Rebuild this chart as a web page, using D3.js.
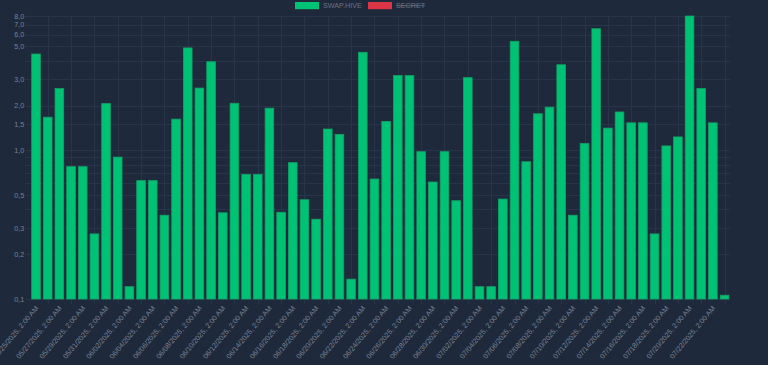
<!DOCTYPE html>
<html>
<head>
<meta charset="utf-8">
<script src="https://cdn.jsdelivr.net/npm/d3@7"></script>
<style>
  html, body { margin: 0; padding: 0; background: #1e293b; }
  svg { display: block; }
</style>
</head>
<body>
<svg class="bar_chart"></svg>
<script>
// days shown on the category axis (all at 2:00 AM)
const days = [
  '05/25', '05/26', '05/27', '05/28', '05/29', '05/30', '05/31',
  '06/01', '06/02', '06/03', '06/04', '06/05', '06/06', '06/07', '06/08', '06/09', '06/10',
  '06/11', '06/12', '06/13', '06/14', '06/15', '06/16', '06/17', '06/18', '06/19', '06/20',
  '06/21', '06/22', '06/23', '06/24', '06/25', '06/26', '06/27', '06/28', '06/29', '06/30',
  '07/01', '07/02', '07/03', '07/04', '07/05', '07/06', '07/07', '07/08', '07/09', '07/10',
  '07/11', '07/12', '07/13', '07/14', '07/15', '07/16', '07/17', '07/18', '07/19', '07/20',
  '07/21', '07/22', '07/23'
];

// SWAP.HIVE series
const swapHive = [
  4.44, 1.67, 2.60, 0.776, 0.776, 0.274, 2.06, 0.90, 0.121, 0.625,
  0.625, 0.366, 1.62, 4.88, 2.62, 3.94, 0.380, 2.07, 0.689, 0.689,
  1.92, 0.383, 0.826, 0.465, 0.344, 1.39, 1.28, 0.136, 4.56, 0.641,
  1.56, 3.18, 3.18, 0.979, 0.612, 0.979, 0.458, 3.08, 0.121, 0.121,
  0.470, 5.41, 0.838, 1.76, 1.95, 3.76, 0.366, 1.11, 6.57, 1.41,
  1.81, 1.53, 1.53, 0.274, 1.07, 1.23, 8.0, 2.60, 1.53, 0.106
];

// log ticks, only some of them get a label
const yTicks = [0.1, 0.2, 0.3, 0.4, 0.5, 0.6, 0.7, 0.8, 0.9, 1, 1.5, 2, 3, 4, 5, 6, 7, 8];
const yLabelled = [0.1, 0.2, 0.3, 0.5, 1, 1.5, 2, 3, 5, 6, 7, 8];

const legendItems = [
  { name: 'SWAP.HIVE', color: '#00c274', hidden: false },
  { name: 'SECRET', color: '#dc3545', hidden: true }
];

const config = {
  width: 768, height: 365,
  left: 30.2, right: 730.4, top: 16, bottom: 299,
  grid: '#273449', text: '#7b8494', font: '7.2px "Liberation Sans", Arial, sans-serif'
};

const svg = d3.select('.bar_chart')
  .attr('width', config.width)
  .attr('height', config.height)
  .style('background-color', '#1e293b')
  .style('font', config.font);

const x = d3.scaleBand()
  .domain(days)
  .range([config.left, config.right])
  .padding(0);

const y = d3.scaleLog()
  .domain([0.1, 8])
  .range([config.bottom, config.top]);

const bw = x.bandwidth();
const fmt = d3.format('.1f');

// horizontal grid
svg.append('g')
  .selectAll('line')
  .data(yTicks)
  .enter().append('line')
  .attr('x1', config.left - 5)
  .attr('x2', config.right)
  .attr('y1', d => Math.round(y(d)) + 0.5)
  .attr('y2', d => Math.round(y(d)) + 0.5)
  .style('stroke', config.grid)
  .style('stroke-width', 1);

// vertical grid sits between the labelled (every 2nd) categories
const gridDays = days.filter((d, i) => i % 2 === 1);
svg.append('g')
  .selectAll('line')
  .data(gridDays)
  .enter().append('line')
  .attr('x1', d => Math.round(x(d) + bw / 2) + 0.5)
  .attr('x2', d => Math.round(x(d) + bw / 2) + 0.5)
  .attr('y1', config.top)
  .attr('y2', config.bottom + 5)
  .style('stroke', config.grid)
  .style('stroke-width', 1);

// y axis labels
const yAxis = svg.append('g')
  .attr('transform', `translate(${config.left - 4},0)`)
  .call(d3.axisLeft(y)
    .tickValues(yLabelled)
    .tickSize(0)
    .tickPadding(2)
    .tickFormat(d => fmt(d).replace('.', ',')));
yAxis.select('.domain').remove();
yAxis.selectAll('text')
  .style('fill', config.text)
  .style('font', config.font);

// bars
svg.append('g')
  .selectAll('rect')
  .data(swapHive)
  .enter().append('rect')
  .attr('x', (d, i) => x(days[i]) + bw * 0.13)
  .attr('width', bw * 0.74)
  .attr('y', d => y(d))
  .attr('height', d => y(0.1) - y(d))
  .style('fill', '#00c274')
  .style('stroke', '#10a466')
  .style('stroke-width', 0.8);

// x labels on every 2nd day, rotated
svg.append('g')
  .selectAll('text')
  .data(days.filter((d, i) => i % 2 === 0))
  .enter().append('text')
  .attr('transform', d => `translate(${x(d) + bw / 2 + 1},${config.bottom + 8}) rotate(-50)`)
  .attr('text-anchor', 'end')
  .attr('dy', '0.32em')
  .style('fill', config.text)
  .text(d => `${d}/2025, 2:00 AM`);

// legend
const legend = svg.append('g').attr('class', 'legend');
const lx = [295, 368];
legendItems.forEach((item, i) => {
  legend.append('rect')
    .attr('x', lx[i]).attr('y', 2)
    .attr('width', 24).attr('height', 7.2)
    .style('fill', item.color);
  const t = legend.append('text')
    .attr('x', lx[i] + 28).attr('y', 5.6)
    .attr('dy', '0.35em')
    .style('fill', '#6b7383')
    .text(item.name);
  if (item.hidden) t.style('text-decoration', 'line-through');
});
</script>
</body>
</html>
